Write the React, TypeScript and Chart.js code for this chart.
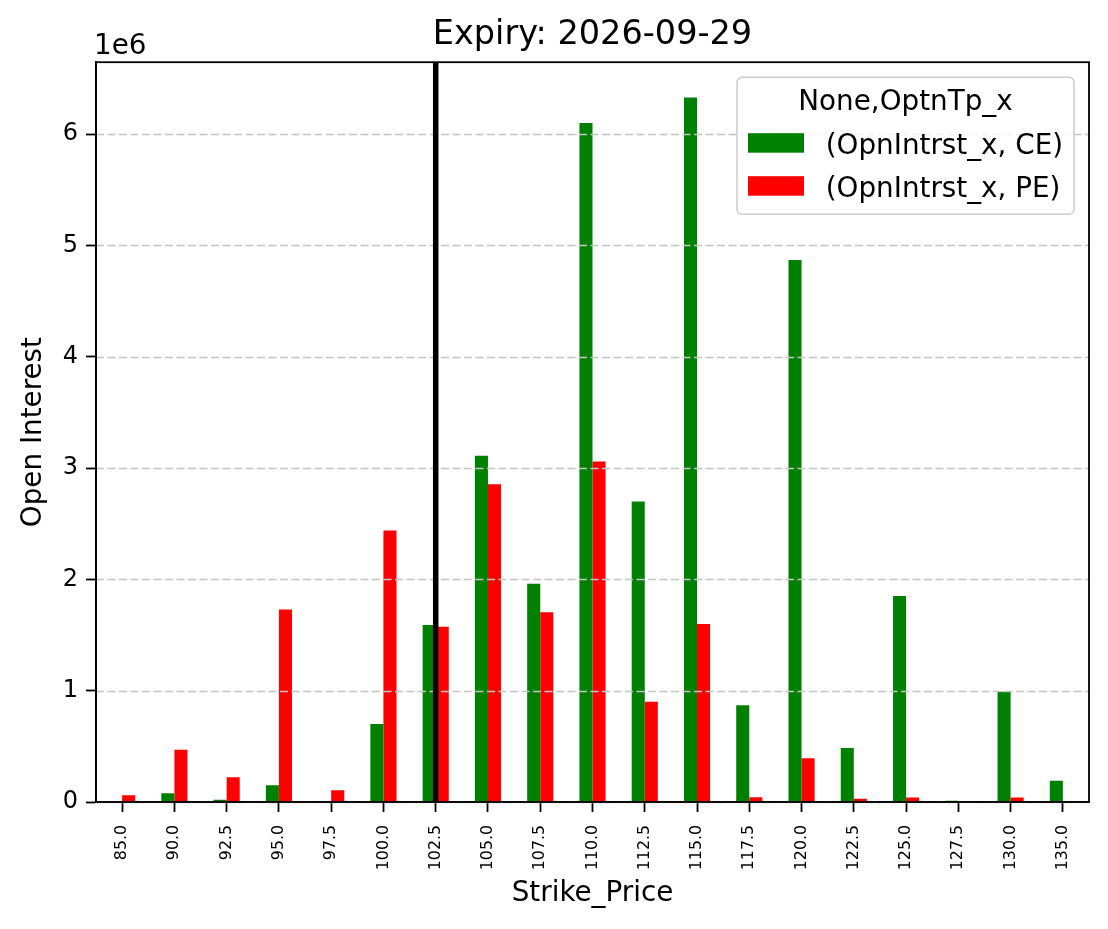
import { useEffect, useRef } from 'react';
import { Chart, registerables } from 'chart.js';

Chart.register(...registerables);

// ---- data ----
const strikes = ['85.0', '90.0', '92.5', '95.0', '97.5', '100.0', '102.5', '105.0', '107.5', '110.0', '112.5', '115.0', '117.5', '120.0', '122.5', '125.0', '127.5', '130.0', '135.0'];
const ceOI = [0, 78000, 20000, 150000, 0, 700000, 1590000, 3110000, 1960000, 6100000, 2700000, 6330000, 870000, 4870000, 485000, 1850000, 12000, 990000, 190000];
const peOI = [60000, 470000, 222000, 1730000, 105000, 2440000, 1575000, 2855000, 1705000, 3060000, 900000, 1600000, 42000, 392000, 30000, 40000, 0, 40000, 0];
const yTickValues = [0, 1, 2, 3, 4, 5, 6]; // in units of 1e6
const spotStrike = '102.5';
const seriesLabels = ['(OpnIntrst_x, CE)', '(OpnIntrst_x, PE)'];
const seriesColors = ['#008000', '#ff0000'];
const legendTitle = 'None,OptnTp_x';
const chartTitle = 'Expiry: 2026-09-29';
const xTitle = 'Strike_Price';
const yTitle = 'Open Interest';
const yScaleLabel = '1e6';
const yUnit = 1e6;

const FONT = "'DejaVu Sans', sans-serif";

const gridPlugin = {
  id: 'mplGrid',
  afterDatasetsDraw(chart: any) {
    const { ctx, chartArea } = chart;
    const ys = chart.scales.y;
    ctx.save();
    ctx.strokeStyle = '#c4c4c4';
    ctx.lineWidth = 1.4;
    ctx.setLineDash([8, 3.5]);
    ys.ticks.forEach((t: any) => {
      const py = Math.round(ys.getPixelForValue(t.value)) + 0.5;
      ctx.beginPath();
      ctx.moveTo(chartArea.left, py);
      ctx.lineTo(chartArea.right, py);
      ctx.stroke();
    });
    ctx.restore();
  },
};

const overlayPlugin = {
  id: 'mplOverlay',
  afterDraw(chart: any) {
    const { ctx, chartArea } = chart;
    const xs = chart.scales.x;
    const { left, right, top, bottom } = chartArea;
    ctx.save();

    // vertical marker at the spot strike
    const sx = xs.getPixelForValue(strikes.indexOf(spotStrike));
    ctx.strokeStyle = '#000';
    ctx.lineWidth = 5.5;
    ctx.beginPath();
    ctx.moveTo(sx, top);
    ctx.lineTo(sx, bottom);
    ctx.stroke();

    // spines
    ctx.lineWidth = 1.8;
    ctx.strokeRect(left, top, right - left, bottom - top);

    // offset text
    ctx.fillStyle = '#000';
    ctx.font = `27.8px ${FONT}`;
    ctx.textAlign = 'left';
    ctx.textBaseline = 'alphabetic';
    ctx.fillText(yScaleLabel, left - 2, top - 8);

    // legend
    const bw = 337, bh = 137;
    const bx = right - 15 - bw;
    const by = top + 15;
    ctx.beginPath();
    const r = 5;
    ctx.moveTo(bx + r, by);
    ctx.arcTo(bx + bw, by, bx + bw, by + bh, r);
    ctx.arcTo(bx + bw, by + bh, bx, by + bh, r);
    ctx.arcTo(bx, by + bh, bx, by, r);
    ctx.arcTo(bx, by, bx + bw, by, r);
    ctx.closePath();
    ctx.fillStyle = 'rgba(255,255,255,0.8)';
    ctx.fill();
    ctx.strokeStyle = '#cccccc';
    ctx.lineWidth = 1.5;
    ctx.stroke();

    ctx.fillStyle = '#000';
    ctx.font = `27.8px ${FONT}`;
    ctx.textAlign = 'center';
    ctx.fillText(legendTitle, bx + bw / 2, by + 32.3);

    ctx.textAlign = 'left';
    seriesLabels.forEach((lab, i) => {
      const rowY = by + 56 + i * 43;
      ctx.fillStyle = seriesColors[i];
      ctx.fillRect(bx + 11, rowY, 56, 19.5);
      ctx.fillStyle = '#000';
      ctx.fillText(lab, bx + 88.7, rowY + 20.5);
    });

    ctx.restore();
  },
};

export default function App() {
  const ref = useRef<HTMLCanvasElement>(null);

  useEffect(() => {
    document.body.style.margin = '0';
    const canvas = ref.current;
    if (!canvas) return;
    const xIdx = strikes.map((_, i) => i);
    const yMax = Math.max(...ceOI, ...peOI) * 1.05;

    const chart = new Chart(canvas, {
      type: 'bar',
      data: {
        datasets: [
          { label: seriesLabels[0], data: ceOI.map((v, i) => ({ x: i, y: v })), backgroundColor: seriesColors[0], borderWidth: 0 },
          { label: seriesLabels[1], data: peOI.map((v, i) => ({ x: i, y: v })), backgroundColor: seriesColors[1], borderWidth: 0 },
        ],
      },
      options: {
        responsive: false,
        animation: false,
        devicePixelRatio: 1,
        layout: { padding: { left: 0, top: 0, right: 19, bottom: 0 } },
        datasets: { bar: { categoryPercentage: 0.5, barPercentage: 1 } },
        plugins: {
          legend: { display: false },
          tooltip: { enabled: false },
          title: {
            display: true, text: chartTitle, fullSize: false, color: '#000',
            font: { family: FONT, size: 33.5, weight: 'normal' },
            padding: { top: 15, bottom: 7 },
          },
        },
        scales: {
          x: {
            type: 'linear', min: -0.5, max: strikes.length - 0.5, bounds: 'data', offset: false,
            afterBuildTicks: (s: any) => { s.ticks = xIdx.map((v) => ({ value: v })); },
            afterFit: (s: any) => { s.height = 127; },
            grid: { offset: false, drawOnChartArea: false, drawTicks: true, tickLength: 10, tickColor: '#000', tickWidth: 1.8, color: '#000' },
            border: { display: true, color: '#000', width: 1.8 },
            ticks: {
              autoSkip: false, minRotation: 90, maxRotation: 90, padding: 13, color: '#000',
              font: { family: FONT, size: 15.8 },
              callback: (v: any) => strikes[v] ?? '',
            },
            title: { display: true, text: xTitle, color: '#000', font: { family: FONT, size: 27.8 }, padding: { top: 0, bottom: 19 } },
          },
          y: {
            type: 'linear', min: 0, max: yMax, bounds: 'data',
            afterBuildTicks: (s: any) => { s.ticks = yTickValues.map((v) => ({ value: v * yUnit })); },
            afterFit: (s: any) => { s.width = 96; },
            ticks: {
              autoSkip: false, padding: 8, color: '#000', font: { family: FONT, size: 24 },
              callback: (v: any) => String(Math.round(v / yUnit)),
            },
            grid: { drawOnChartArea: false, drawTicks: true, color: '#000', tickLength: 10, tickColor: '#000', tickWidth: 1.8 },
            border: { display: true, color: '#000', width: 1.8 },
            title: { display: true, text: yTitle, color: '#000', font: { family: FONT, size: 27.8 }, padding: { top: 17, bottom: 0 } },
          },
        },
      } as any,
      plugins: [gridPlugin, overlayPlugin],
    });

    return () => chart.destroy();
  }, []);

  return <canvas ref={ref} width={1108} height={929} style={{ display: 'block' }} />;
}
